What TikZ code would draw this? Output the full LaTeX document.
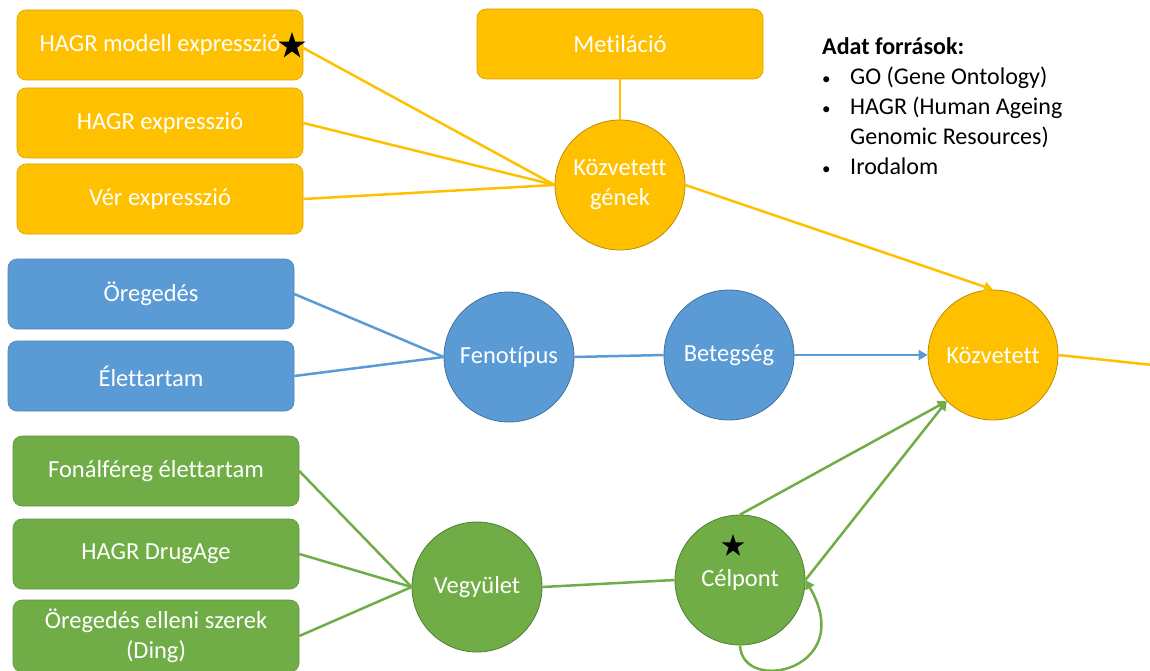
\documentclass[tikz,border=0pt]{standalone}
\usepackage{fontspec}
\setmainfont{Carlito}[Ligatures=NoCommon]
\usetikzlibrary{shapes.geometric,arrows.meta}
\definecolor{org}{HTML}{FFC000}
\definecolor{orgd}{HTML}{BC8C00}
\definecolor{blu}{HTML}{5B9BD5}
\definecolor{blud}{HTML}{41719C}
\definecolor{grn}{HTML}{70AD47}
\definecolor{grnd}{HTML}{507E32}
\tikzset{
  box/.style={rounded corners=9pt, minimum width=286pt, minimum height=70pt, inner sep=2pt,
    text=white, font=\fontsize{24.5}{30}\selectfont, align=center, draw=#1!85!black, line width=0.6pt, fill=#1},
  circ/.style={circle, minimum size=130pt, inner sep=0pt, text=white,
    font=\fontsize{24.5}{30}\selectfont, align=center, fill=#1},
  conn/.style={draw=#1, line width=2.5pt},
  arr/.style={conn=#1, -{Triangle[length=9pt,width=10pt]}},
  starmark/.style={star, star points=5, star point ratio=2.6, fill=black, inner sep=0pt, minimum size=#1},
}
\newcommand{\smbul}{{\fontsize{17}{17}\selectfont\textbullet}}
\begin{document}
\begin{tikzpicture}[x=1pt,y=-1pt]
\useasboundingbox (0,0) rectangle (1150,671);
% orange top group
\node[box=org] (b1) at (160,45) {HAGR modell expresszió};
\node[box=org] (b2) at (160,123) {HAGR expresszió};
\node[box=org] (b3) at (160,199) {Vér expresszió};
\node[box=org] (met) at (620,44) {Metiláció};
\node[circ=org, draw=orgd, line width=0.8pt] (kg) at (620,185) {Közvetett\\gének};
\node[starmark=28pt] (s1) at (292,46) {};
% blue group
\node[box=blu] (o1) at (151,294) {Öregedés};
\node[box=blu] (o2) at (151,376) {Élettartam};
\node[circ=blu, draw=blud, line width=0.8pt] (fen) at (509,357) {Fenotípus};
\node[circ=blu, draw=blud, line width=0.8pt] (bet) at (729,355) {Betegség};
% kozvetett
\node[circ=org, draw=orgd, line width=0.8pt] (koz) at (993,355) {Közvetett};
% green group
\node[box=grn] (g1) at (156,471) {Fonálféreg élettartam};
\node[box=grn] (g2) at (156,554) {HAGR DrugAge};
\node[box=grn, minimum height=72pt] (g3) at (156,636) {Öregedés elleni szerek\\(Ding)};
\node[circ=grn, draw=grnd, line width=0.8pt] (veg) at (477,587) {Vegyület};
\node[circ=grn, draw=grnd, line width=0.8pt] (cel) at (740,580) {Célpont};
\node[starmark=24pt] (s2) at (733,546) {};
\coordinate (out) at (1162,366);
% connectors
\draw[conn=org] (s1.east) -- (kg.west);
\draw[conn=org] (b2.east) -- (kg.west);
\draw[conn=org] (b3.east) -- (kg.west);
\draw[conn=org] (met.south) -- (kg.north);
\draw[arr=org] (kg.east) -- (koz.north);
\draw[arr=org] (koz.east) -- (out);
\draw[conn=blu] (o1.east) -- (fen.west);
\draw[conn=blu] (o2.east) -- (fen.west);
\draw[conn=blu] (fen.east) -- (bet.west);
\draw[arr=blu] (bet.east) -- (koz.west);
\draw[conn=grn] (g1.east) -- (veg.west);
\draw[conn=grn] (g2.east) -- (veg.west);
\draw[conn=grn] (g3.east) -- (veg.west);
\draw[conn=grn] (veg.east) -- (cel.west);
\draw[arr=grn] (cel.north) -- (koz.south west);
\draw[arr=grn] (cel.east) -- (koz.south west);
\draw[arr=grn] (cel.south) .. controls (742,695) and (858,670) .. (cel.east);
% legend
\node[anchor=north west, inner sep=0pt, font=\fontsize{24}{30}\selectfont] (leg) at (822,33)
{\begin{tabular}{@{}p{28pt}@{}l@{}}
\multicolumn{2}{@{}l}{\textbf{Adat források:}}\\
\smbul & GO (Gene Ontology)\\
\smbul & HAGR (Human Ageing\\
 & Genomic Resources)\\
\smbul & Irodalom
\end{tabular}};
\end{tikzpicture}
\end{document}
